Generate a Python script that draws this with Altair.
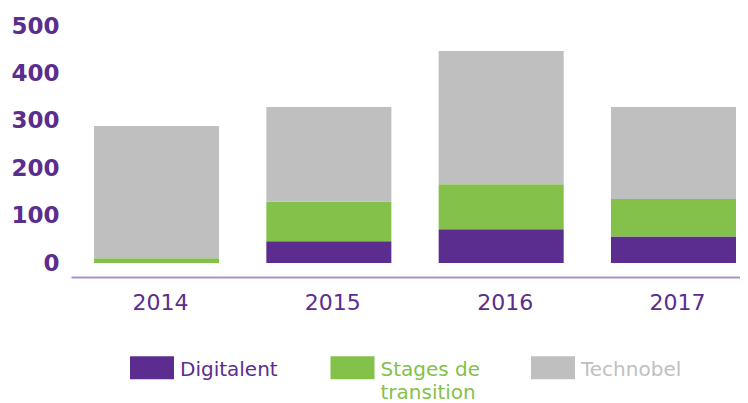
import altair as alt
import pandas as pd

years = ["2014", "2015", "2016", "2017"]
series = ["Digitalent", "Stages de transition", "Technobel"]
legend_labels = ["Digitalent", "Stages de\ntransition", "Technobel"]
digitalent = [0, 46, 71, 56]
stages = [10, 84, 95, 79]
technobel = [279, 199, 281, 194]
colors = ["#5b2d8e", "#84c14a", "#bfbfbf"]
y_ticks = [0, 100, 200, 300, 400, 500]

rows = []
for i, yr in enumerate(years):
    for k, (name, vals) in enumerate(zip(series, [digitalent, stages, technobel])):
        rows.append({"year": yr, "series": name, "value": vals[i], "order": k})
df = pd.DataFrame(rows)
leg = pd.DataFrame({"series": series, "label": legend_labels})

purple = "#5b2d8e"
color = alt.Color("series:N", scale=alt.Scale(domain=series, range=colors), legend=None)

bars = alt.Chart(df).mark_bar().encode(
    x=alt.X(
        "year:N", sort=years,
        scale=alt.Scale(paddingInner=0.2745, paddingOuter=0.0784, align=0.852),
        axis=alt.Axis(title=None, labelAngle=0, labelFont="DejaVu Sans", labelFontSize=22,
                      labelColor=purple, labelPadding=15, labelOffset=4, ticks=False, tickSize=0,
                      offset=14, domainColor="#ab91cc", domainWidth=2, grid=False),
    ),
    y=alt.Y(
        "value:Q", stack="zero", scale=alt.Scale(domain=[0, 500]),
        axis=alt.Axis(title=None, values=y_ticks, labelFont="DejaVu Sans", labelFontSize=23,
                      labelFontWeight="bold", labelColor=purple, labelPadding=12,
                      ticks=False, tickSize=0, domain=False, grid=False),
    ),
    color=color,
    order=alt.Order("order:Q", sort="ascending"),
)

leg_x = alt.X("series:N", sort=series, bandPosition=0,
              scale=alt.Scale(type="band", paddingInner=0, paddingOuter=0.1683, align=0.874),
              axis=None)

sym = alt.Chart(leg).mark_point(
    shape="M0,-0.5227L2,-0.5227L2,0.5227L0,0.5227Z", size=1936, filled=True, opacity=1, strokeWidth=0
).encode(x=leg_x, y=alt.value(341.7), color=color)

txt = alt.Chart(leg).mark_text(
    align="left", baseline="top", dx=50, dy=-8, lineBreak="\n", lineHeight=23,
    font="DejaVu Sans", fontSize=20
).encode(x=leg_x, y=alt.value(341.7), text="label:N", color=color)

chart = alt.layer(bars, sym, txt).resolve_scale(x="independent").properties(
    width=669, height=237,
    autosize=alt.AutoSizeParams(type="none"),
    padding={"left": 63, "top": 18, "right": 0, "bottom": 140},
).configure_view(stroke=None)

chart.save("out.html", embed_options={"renderer": "svg", "actions": False})
